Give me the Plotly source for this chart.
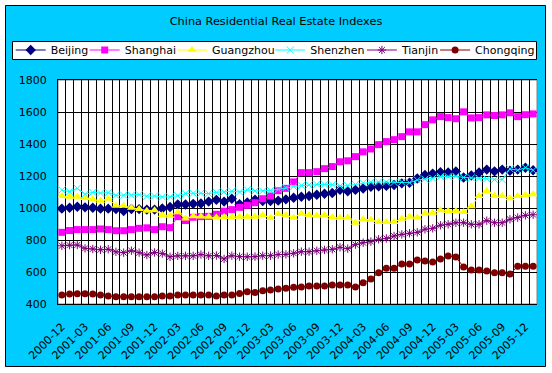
import plotly.graph_objects as go

# ---- data ----
months = []
for y in range(2000, 2007):
    for m in range(1, 13):
        s = f"{y}-{m:02d}"
        if "2000-12" <= s <= "2006-01":
            months.append(s)

beijing = [996, 1002, 1008, 1004, 1002, 996, 996, 994, 981, 994,
           993, 990, 990, 997, 1006, 1022, 1022, 1026, 1028, 1040,
           1051, 1040, 1058, 1024, 1034, 1052, 1043, 1044, 1046, 1054,
           1064, 1070, 1075, 1083, 1089, 1094, 1113, 1104, 1113, 1122,
           1133, 1135, 1138, 1144, 1154, 1158, 1184, 1207, 1215, 1223,
           1222, 1228, 1191, 1203, 1222, 1240, 1229, 1240, 1233, 1240,
           1252, 1236]
shanghai = [848, 859, 865, 865, 865, 869, 865, 858, 858, 865,
            873, 876, 865, 883, 877, 946, 922, 942, 946, 948,
            961, 980, 990, 1004, 1017, 1033, 1058, 1075, 1108, 1123,
            1163, 1221, 1221, 1227, 1246, 1259, 1289, 1295, 1321, 1351,
            1369, 1396, 1415, 1427, 1446, 1476, 1476, 1521, 1551, 1571,
            1565, 1558, 1601, 1563, 1565, 1582, 1578, 1582, 1595, 1571,
            1583, 1588]
guangzhou = [1075, 1071, 1070, 1062, 1054, 1045, 1058, 1014, 1014, 1001,
             994, 983, 986, 956, 952, 973, 935, 948, 947, 945,
             940, 944, 943, 945, 945, 946, 956, 938, 962, 955,
             939, 964, 957, 951, 957, 940, 939, 940, 908, 930,
             927, 913, 913, 913, 933, 946, 940, 965, 971, 986,
             982, 982, 975, 1011, 1075, 1107, 1075, 1075, 1061, 1075,
             1082, 1086]
shenzhen = [1112, 1102, 1123, 1086, 1098, 1093, 1096, 1079, 1080, 1080,
            1084, 1073, 1075, 1069, 1070, 1077, 1090, 1092, 1092, 1090,
            1098, 1100, 1105, 1100, 1114, 1106, 1106, 1110, 1116, 1127,
            1134, 1140, 1144, 1148, 1148, 1146, 1137, 1140, 1147, 1157,
            1161, 1163, 1162, 1160, 1162, 1158, 1175, 1180, 1186, 1197,
            1197, 1198, 1191, 1188, 1184, 1183, 1178, 1178, 1245, 1236,
            1252, 1236]
tianjin = [764, 768, 769, 748, 744, 739, 742, 726, 721, 733,
           721, 706, 722, 715, 695, 701, 701, 701, 709, 701,
           703, 682, 702, 696, 695, 696, 702, 702, 709, 710,
           717, 727, 727, 733, 738, 742, 754, 746, 771, 783,
           790, 804, 810, 825, 835, 842, 848, 867, 873, 892,
           898, 908, 908, 898, 898, 921, 908, 908, 929, 940,
           954, 958]
chongqing = [456, 462, 464, 464, 462, 456, 450, 445, 445, 445,
             445, 445, 445, 450, 450, 456, 456, 456, 456, 456,
             450, 456, 456, 466, 477, 472, 483, 487, 493, 499,
             505, 507, 512, 512, 512, 518, 519, 519, 507, 533,
             556, 596, 624, 624, 650, 650, 675, 669, 662, 681,
             700, 693, 631, 612, 612, 606, 595, 595, 587, 636,
             636, 636]

series = [
    ("Beijing", beijing, "#000080", "diamond", 8),
    ("Shanghai", shanghai, "#FF00FF", "square", 7),
    ("Guangzhou", guangzhou, "#FFFF00", "triangle-up", 8),
    ("Shenzhen", shenzhen, "#00FFFF", "x-thin-open", 7),
    ("Tianjin", tianjin, "#800080", "asterisk-open", 7),
    ("Chongqing", chongqing, "#800000", "circle", 7),
]

# pixel x where each legend entry's text starts in the reference
legend_text_px = [46.7, 120.7, 208, 306.3, 397.9, 471.1]

FONT = "DejaVu Sans"
n = len(months)
xs = list(range(n))

# plot area pixel geometry
L, R, T, B = 58, 15, 80, 69
W, H = 552, 373
pw, ph = W - L - R, H - T - B


def px2x(p):
    return (p - L) / pw


def py2y(p):
    return (H - B - p) / ph


fig = go.Figure()
legend_layout = {}
for k, (name, vals, col, sym, sz) in enumerate(series):
    open_sym = sym.endswith("open")
    lname = "legend" if k == 0 else f"legend{k + 1}"
    fig.add_trace(go.Scatter(
        x=xs, y=vals, name=name, mode="lines+markers",
        line=dict(color=col, width=1),
        marker=dict(symbol=sym, size=sz, color=col,
                    line=dict(color=col, width=1 if open_sym else 0)),
        legend=lname,
    ))
    legend_layout[lname] = dict(
        orientation="h", x=px2x(legend_text_px[k] - 36), xanchor="left",
        y=py2y(50), yanchor="middle",
        bgcolor="rgba(0,0,0,0)", borderwidth=0,
        font=dict(family=FONT, size=11, color="black"),
        itemwidth=30,
    )

fig.add_shape(type="rect", xref="paper", yref="paper",
              x0=px2x(5.5), x1=px2x(545.5), y0=py2y(366.5), y1=py2y(5.5),
              fillcolor="#00CCFF", line=dict(color="black", width=1),
              layer="below")
fig.add_shape(type="rect", xref="paper", yref="paper",
              x0=0, x1=1, y0=0, y1=1,
              fillcolor="white", line=dict(color="#808080", width=1),
              layer="below")
# legend frame
fig.add_shape(type="rect", xref="paper", yref="paper",
              x0=px2x(12.5), x1=px2x(536.5), y0=py2y(59.5), y1=py2y(41.5),
              fillcolor="white", line=dict(color="black", width=1),
              layer="below")

fig.update_layout(
    width=W, height=H,
    margin=dict(l=L, r=R, t=T, b=B, autoexpand=False),
    paper_bgcolor="white", plot_bgcolor="white",
    font=dict(family=FONT, size=11, color="black"),
    title=dict(text="China Residential Real Estate Indexes",
               x=0.5, xref="container", xanchor="center",
               y=1 - 21 / H, yref="container", yanchor="middle",
               font=dict(family=FONT, size=11.3, color="black")),
    showlegend=True,
    xaxis=dict(
        range=[-0.5, n - 0.5],
        tickmode="array", tickvals=xs[::3], ticktext=months[::3],
        tickangle=-45, showgrid=False, zeroline=False,
        showline=True, linecolor="black", linewidth=1, mirror=True,
        ticks="", ticklabelstandoff=11,
        tickfont=dict(family=FONT, size=11, color="black"),
        minor=dict(tickmode="linear", tick0=0.5, dtick=1, showgrid=True,
                   gridcolor="black", gridwidth=1, ticks=""),
    ),
    yaxis=dict(
        range=[400, 1800], dtick=200, tick0=400,
        showgrid=True, gridcolor="black", gridwidth=1, zeroline=False,
        showline=True, linecolor="black", linewidth=1,
        ticks="", ticklabelstandoff=8,
        tickfont=dict(family=FONT, size=11, color="black"),
    ),
    **legend_layout,
)

fig.write_html("out.html",
               config={"displayModeBar": False},
               post_script="document.body.style.margin='0';"
                           "document.body.style.padding='0';")
